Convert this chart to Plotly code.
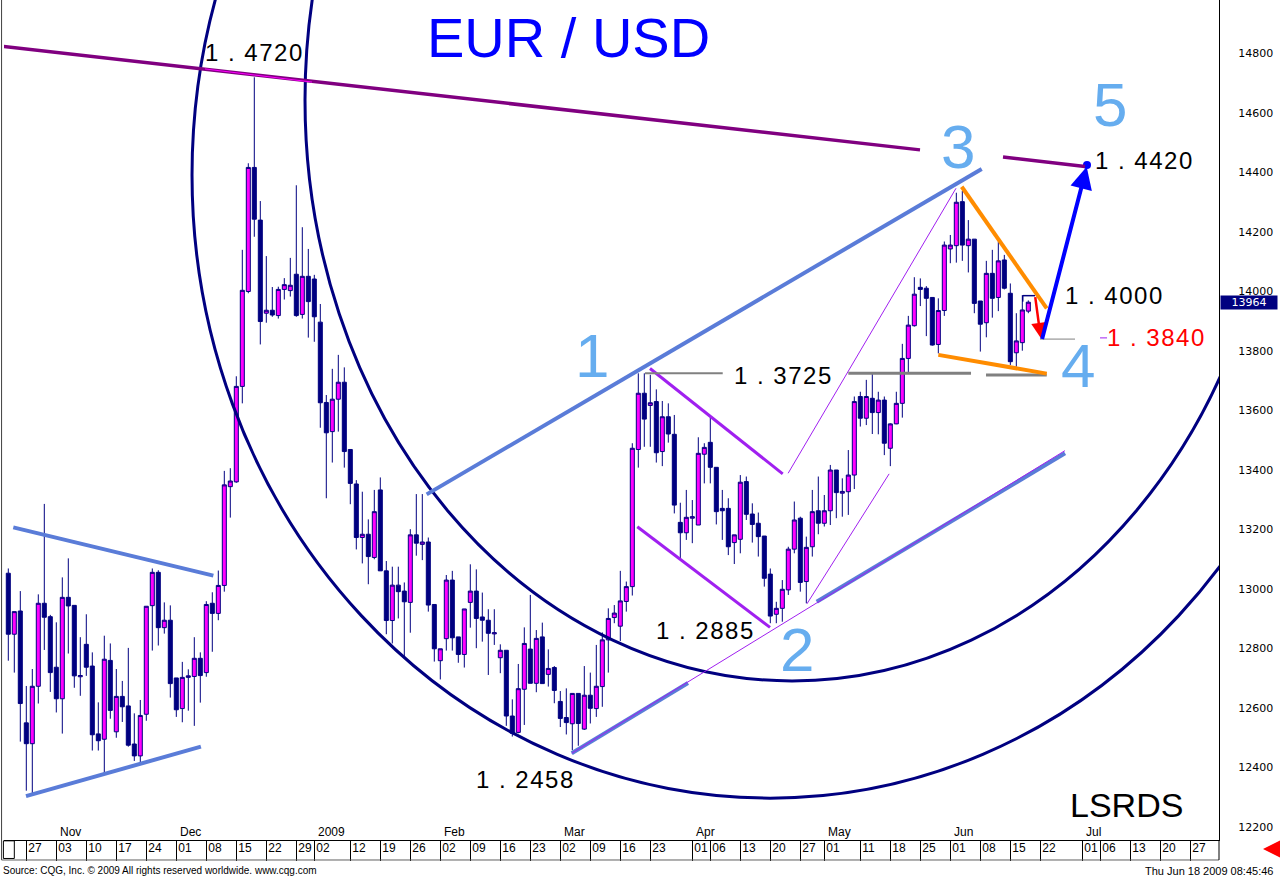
import plotly.graph_objects as go
import pandas as pd

# ---------------- data ----------------
calendar = [d for d in pd.bdate_range("2008-10-22", "2009-07-31") if d != pd.Timestamp("2009-01-01")]

open_ = [1.3053, 1.2848, 1.2926, 1.2550, 1.2480, 1.2673, 1.2952, 1.2907, 1.2737, 1.2631,
         1.2972, 1.2945, 1.2705, 1.2814, 1.2741, 1.2513, 1.2495, 1.2760, 1.2520, 1.2639,
         1.2607, 1.2479, 1.2439, 1.2579, 1.2944, 1.3056, 1.2870, 1.2895, 1.2701, 1.2598,
         1.2703, 1.2706, 1.2767, 1.2719, 1.2952, 1.2918, 1.3012, 1.3344, 1.3360, 1.3681,
         1.4000, 1.4417, 1.4240, 1.3927, 1.3937, 1.3919, 1.4007, 1.4003, 1.4058, 1.3923,
         1.4051, 1.4042, 1.3897, 1.3627, 1.3529, 1.3638, 1.3695, 1.3469, 1.3353, 1.3173,
         1.3184, 1.3106, 1.3333, 1.3061, 1.2894, 1.3013, 1.2993, 1.2955, 1.3182, 1.3150,
         1.3158, 1.2948, 1.2759, 1.2833, 1.3030, 1.2839, 1.2780, 1.2955, 1.2993, 1.2906,
         1.2895, 1.2849, 1.2769, 1.2794, 1.2573, 1.2518, 1.2663, 1.2798, 1.2683, 1.2839,
         1.2713, 1.2736, 1.2622, 1.2568, 1.2547, 1.2649, 1.2529, 1.2643, 1.2598, 1.2672,
         1.2829, 1.2904, 1.2875, 1.2958, 1.3008, 1.3469, 1.3658, 1.3617, 1.3630, 1.3462,
         1.3579, 1.3520, 1.3224, 1.3189, 1.3238, 1.3215, 1.3453, 1.3493, 1.3409, 1.3271,
         1.3271, 1.3156, 1.3167, 1.3361, 1.3252, 1.3221, 1.3178, 1.3050, 1.2915, 1.2935,
         1.2997, 1.3134, 1.3238, 1.3025, 1.3142, 1.3263, 1.3221, 1.3263, 1.3400, 1.3322,
         1.3327, 1.3383, 1.3647, 1.3574, 1.3641, 1.3593, 1.3635, 1.3473, 1.3555, 1.3624,
         1.3775, 1.3885, 1.4014, 1.4011, 1.3980, 1.3822, 1.3936, 1.4143, 1.4154, 1.4302,
         1.4154, 1.4176, 1.3968, 1.3895, 1.4061, 1.3980, 1.4106, 1.3994, 1.3794, 1.3828,
         1.3934]
high = [1.3069, 1.2924, 1.2993, 1.2674, 1.2731, 1.2982, 1.3286, 1.2913, 1.2888, 1.3039,
        1.3103, 1.2945, 1.2838, 1.2915, 1.2787, 1.2619, 1.2843, 1.2817, 1.2731, 1.2691,
        1.2802, 1.2582, 1.2627, 1.2942, 1.3069, 1.3063, 1.2955, 1.2945, 1.2701, 1.2755,
        1.2730, 1.2838, 1.2787, 1.2959, 1.2989, 1.3062, 1.3397, 1.3406, 1.3715, 1.4140,
        1.4431, 1.4720, 1.4304, 1.4119, 1.4015, 1.4016, 1.4045, 1.4113, 1.4357, 1.4216,
        1.4143, 1.4056, 1.3958, 1.3652, 1.3740, 1.3787, 1.3745, 1.3469, 1.3366, 1.3327,
        1.3234, 1.3333, 1.3375, 1.3094, 1.3075, 1.3075, 1.3022, 1.3201, 1.3319, 1.3319,
        1.3173, 1.2948, 1.2799, 1.3047, 1.3061, 1.2839, 1.2933, 1.3083, 1.3066, 1.2988,
        1.2932, 1.2932, 1.2814, 1.2794, 1.2629, 1.2748, 1.2871, 1.2980, 1.2862, 1.2887,
        1.2797, 1.2741, 1.2657, 1.2666, 1.2649, 1.2649, 1.2741, 1.2719, 1.2812, 1.2854,
        1.2935, 1.2946, 1.3061, 1.3025, 1.3490, 1.3725, 1.3725, 1.3720, 1.3671, 1.3632,
        1.3624, 1.3585, 1.3290, 1.3333, 1.3299, 1.3510, 1.3490, 1.3576, 1.3409, 1.3333,
        1.3305, 1.3182, 1.3383, 1.3378, 1.3288, 1.3257, 1.3178, 1.3069, 1.2957, 1.3030,
        1.3142, 1.3294, 1.3243, 1.3176, 1.3333, 1.3378, 1.3316, 1.3417, 1.3400, 1.3372,
        1.3467, 1.3647, 1.3663, 1.3703, 1.3725, 1.3663, 1.3647, 1.3557, 1.3663, 1.3824,
        1.3918, 1.4048, 1.4044, 1.4018, 1.3980, 1.3977, 1.4168, 1.4190, 1.4332, 1.4338,
        1.4240, 1.4176, 1.3968, 1.4103, 1.4140, 1.4168, 1.4123, 1.4027, 1.3927, 1.3988,
        1.3970]
low = [1.2759, 1.2719, 1.2487, 1.2322, 1.2313, 1.2615, 1.2795, 1.2654, 1.2585, 1.2514,
       1.2783, 1.2668, 1.2641, 1.2708, 1.2457, 1.2457, 1.2380, 1.2564, 1.2500, 1.2553,
       1.2470, 1.2422, 1.2414, 1.2557, 1.2793, 1.2810, 1.2850, 1.2635, 1.2570, 1.2552,
       1.2591, 1.2540, 1.2618, 1.2705, 1.2789, 1.2895, 1.2991, 1.3240, 1.3357, 1.3624,
       1.3994, 1.4184, 1.3822, 1.3895, 1.3915, 1.3909, 1.3973, 1.3983, 1.3915, 1.3909,
       1.3845, 1.3831, 1.3542, 1.3305, 1.3425, 1.3529, 1.3408, 1.3285, 1.3133, 1.3086,
       1.3016, 1.3100, 1.3061, 1.2848, 1.2817, 1.2901, 1.2767, 1.2853, 1.3112, 1.3097,
       1.2924, 1.2756, 1.2696, 1.2793, 1.2793, 1.2752, 1.2736, 1.2870, 1.2801, 1.2823,
       1.2711, 1.2812, 1.2717, 1.2540, 1.2504, 1.2515, 1.2543, 1.2683, 1.2653, 1.2682,
       1.2672, 1.2616, 1.2536, 1.2511, 1.2458, 1.2473, 1.2526, 1.2548, 1.2570, 1.2604,
       1.2719, 1.2885, 1.2825, 1.2924, 1.2978, 1.3408, 1.3478, 1.3478, 1.3425, 1.3413,
       1.3492, 1.3254, 1.3103, 1.3165, 1.3154, 1.3215, 1.3355, 1.3355, 1.3217, 1.3165,
       1.3114, 1.3084, 1.3120, 1.3232, 1.3156, 1.3109, 1.3008, 1.2885, 1.2885, 1.2890,
       1.2980, 1.3120, 1.2991, 1.2952, 1.3109, 1.3184, 1.3210, 1.3215, 1.3238, 1.3243,
       1.3249, 1.3336, 1.3546, 1.3551, 1.3521, 1.3520, 1.3450, 1.3413, 1.3554, 1.3576,
       1.3727, 1.3882, 1.3951, 1.3850, 1.3818, 1.3792, 1.3918, 1.4095, 1.4097, 1.4103,
       1.4064, 1.3927, 1.3798, 1.3846, 1.3912, 1.3934, 1.4007, 1.3753, 1.3747, 1.3801,
       1.3927]
close = [1.2848, 1.2924, 1.2615, 1.2480, 1.2673, 1.2952, 1.2905, 1.2719, 1.2631, 1.2972,
         1.2943, 1.2708, 1.2709, 1.2737, 1.2510, 1.2490, 1.2764, 1.2592, 1.2639, 1.2604,
         1.2475, 1.2439, 1.2575, 1.2942, 1.3056, 1.2870, 1.2895, 1.2682, 1.2594, 1.2703,
         1.2708, 1.2767, 1.2709, 1.2948, 1.2918, 1.3012, 1.3350, 1.3363, 1.3681, 1.4004,
         1.4417, 1.4243, 1.3899, 1.3937, 1.3921, 1.4007, 1.4023, 1.4021, 1.3919, 1.4051,
         1.3966, 1.3915, 1.3626, 1.3525, 1.3638, 1.3695, 1.3462, 1.3355, 1.3173, 1.3184,
         1.3109, 1.3260, 1.3061, 1.2894, 1.3013, 1.2991, 1.2957, 1.3182, 1.3154, 1.3158,
         1.2946, 1.2799, 1.2799, 1.3030, 1.2836, 1.2780, 1.2933, 1.2993, 1.2901, 1.2895,
         1.2851, 1.2853, 1.2794, 1.2573, 1.2515, 1.2665, 1.2817, 1.2683, 1.2834, 1.2682,
         1.2733, 1.2659, 1.2565, 1.2551, 1.2649, 1.2548, 1.2643, 1.2599, 1.2673, 1.2829,
         1.2901, 1.2919, 1.2960, 1.3008, 1.3473, 1.3658, 1.3571, 1.3626, 1.3458, 1.3579,
         1.3521, 1.3282, 1.3189, 1.3241, 1.3243, 1.3456, 1.3476, 1.3409, 1.3260, 1.3263,
         1.3142, 1.3182, 1.3359, 1.3251, 1.3217, 1.3176, 1.3036, 1.2909, 1.2935, 1.2999,
         1.3134, 1.3232, 1.3022, 1.3140, 1.3260, 1.3221, 1.3263, 1.3400, 1.3324, 1.3328,
         1.3383, 1.3630, 1.3574, 1.3647, 1.3593, 1.3635, 1.3490, 1.3555, 1.3624, 1.3775,
         1.3887, 1.3991, 1.4007, 1.3977, 1.3820, 1.3936, 1.4156, 1.4156, 1.4300, 1.4156,
         1.4176, 1.3960, 1.3890, 1.4061, 1.3977, 1.4103, 1.4011, 1.3764, 1.3834, 1.3938,
         1.3964]

tick_days = ["2008-10-27", "2008-11-03", "2008-11-10", "2008-11-17", "2008-11-24",
             "2008-12-01", "2008-12-08", "2008-12-15", "2008-12-22", "2008-12-29",
             "2009-01-02", "2009-01-12", "2009-01-19", "2009-01-26", "2009-02-02",
             "2009-02-09", "2009-02-16", "2009-02-23", "2009-03-02", "2009-03-09",
             "2009-03-16", "2009-03-23", "2009-04-01", "2009-04-06", "2009-04-13",
             "2009-04-20", "2009-04-27", "2009-05-01", "2009-05-11", "2009-05-18",
             "2009-05-25", "2009-06-01", "2009-06-08", "2009-06-15", "2009-06-22",
             "2009-07-01", "2009-07-06", "2009-07-13", "2009-07-20", "2009-07-27"]
month_starts = ["2008-11-03", "2008-12-01", "2009-01-02", "2009-02-02", "2009-03-02",
                "2009-04-01", "2009-05-01", "2009-06-01", "2009-07-01"]
month_names = ["Nov", "Dec", "2009", "Feb", "Mar", "Apr", "May", "Jun", "Jul"]

y_ticks = [1.22, 1.24, 1.26, 1.28, 1.30, 1.32, 1.34, 1.36, 1.38, 1.40, 1.42, 1.44, 1.46, 1.48]
y_tick_text = ["12200", "12400", "12600", "12800", "13000", "13200", "13400", "13600",
               "13800", "14000", "14200", "14400", "14600", "14800"]

# drawn studies, in (bar index, price)
purple_trend = [(-1.38, 1.4825), (151.95, 1.4476)]
purple_trend_2 = [(165.78, 1.4452), (179.45, 1.4420)]
high_leader = [(32.78, 1.4748), (50.62, 1.4704)]
blue_lines = [[(0.83, 1.3207), (34.17, 1.3045)],
              [(2.95, 1.2304), (32.1, 1.2470)],
              [(69.73, 1.3318), (162.23, 1.4412)],
              [(93.9, 1.2448), (113.28, 1.2684)],
              [(134.73, 1.2957), (176.12, 1.3456)]]
violet_thin = [[(93.9, 1.2448), (176.1, 1.3465)],
               [(129.97, 1.3389), (157.95, 1.4347)],
               [(133.1, 1.2950), (146.8, 1.3387)]]
violet_channel = [[(106.95, 1.3741), (129.07, 1.3387)],
                  [(104.83, 1.3209), (126.95, 1.2871)]]
gray_levels = [[(106.12, 1.3725), (119.07, 1.3725)],
               [(140.0, 1.3725), (160.45, 1.3725)],
               [(162.95, 1.3719), (173.07, 1.3719)]]
gray_1384 = [(171.95, 1.3840), (177.78, 1.3840)]
orange_lines = [[(158.9, 1.4352), (173.07, 1.3943)],
                [(155.0, 1.3787), (173.07, 1.3724)]]
bracket_1400 = [(169.07, 1.3966), (169.07, 1.3986), (171.12, 1.3986)]
red_arrow = [(171.12, 1.3986), (172.07, 1.3844)]
blue_arrow = [(172.23, 1.3835), (179.73, 1.4419)]
target5 = (179.78, 1.4425)
dash_1384 = [(181.95, 1.3844), (183.12, 1.3844)]
time_circles = [(49.45, 211.78, 1.2691, 1.6597), (30.62, 223.28, 1.2297, 1.6486)]

price_labels = ["1 . 4720", "1 . 3725", "1 . 2885", "1 . 2458", "1 . 4000", "1 . 4420"]
price_label_x = [41.03, 129.28, 116.28, 86.12, 184.28, 189.28]
price_label_y = [1.4802, 1.3719, 1.2862, 1.2358, 1.3985, 1.4442]
target_label = ("1 . 3840", 191.28, 1.3844)
wave_labels = ["1", "2", "3", "4", "5"]
wave_x = [97.28, 131.4, 158.28, 178.2, 183.62]
wave_y = [1.3785, 1.2795, 1.4486, 1.3750, 1.4630]

# ---------------- figure ----------------
n = len(close)
idx = list(range(n))
pos = {d: i for i, d in enumerate(calendar)}
tick_pos = [pos[pd.Timestamp(d)] for d in tick_days]
tick_text = [d[-2:] for d in tick_days]

NAVY = "#000080"
fig = go.Figure()
fig.add_trace(go.Candlestick(
    x=idx, open=open_, high=high, low=low, close=close,
    text=[d.strftime("%Y-%m-%d") for d in calendar[:n]],
    increasing=dict(fillcolor="#FF00FF", line=dict(color=NAVY, width=1)),
    decreasing=dict(fillcolor=NAVY, line=dict(color=NAVY, width=1)),
    whiskerwidth=0, showlegend=False))
fig.add_trace(go.Scatter(x=[target5[0]], y=[target5[1]], mode="markers",
                         marker=dict(color="#0000FF", size=8), showlegend=False, hoverinfo="skip"))

shapes = []
def seg(a, b, color, width):
    shapes.append(dict(type="line", xref="x", yref="y", x0=a[0], y0=a[1], x1=b[0], y1=b[1],
                       line=dict(color=color, width=width)))

for (x0, x1, y0, y1) in time_circles:
    shapes.append(dict(type="circle", xref="x", yref="y", x0=x0, x1=x1, y0=y0, y1=y1,
                       line=dict(color=NAVY, width=3)))
seg(*purple_trend, "#800080", 3.5)
seg(*purple_trend_2, "#800080", 3.5)
seg(*high_leader, "#FF00FF", 1)
for ln in blue_lines:
    seg(*ln, "#5A7CD8", 4)
for ln in violet_channel:
    seg(*ln, "#A020F0", 3)
for ln in violet_thin:
    seg(*ln, "#A020F0", 1)
seg(*gray_levels[0], "#808080", 2)
seg(*gray_levels[1], "#808080", 3)
seg(*gray_levels[2], "#808080", 3)
seg(*gray_1384, "#808080", 1)
for ln in orange_lines:
    seg(*ln, "#FF8C00", 4)
seg(bracket_1400[0], bracket_1400[1], NAVY, 1.5)
seg(bracket_1400[1], bracket_1400[2], NAVY, 1.5)
seg(*dash_1384, "#A020F0", 1)

# frame pieces outside the plot
shapes.append(dict(type="line", xref="paper", yref="paper", x0=-0.002, x1=-0.002, y0=-0.0238, y1=1,
                   line=dict(color="#404040", width=1)))
shapes.append(dict(type="line", xref="paper", yref="paper", x0=-0.002, x1=1.0, y0=-0.0238, y1=-0.0238,
                   line=dict(color="#606060", width=1)))
shapes.append(dict(type="line", xref="paper", yref="paper", x0=1.0, x1=1.0, y0=-0.0238, y1=0,
                   line=dict(color="black", width=1)))
shapes.append(dict(type="rect", xref="paper", yref="paper", x0=-0.0005, x1=0.0085, y0=-0.022, y1=-0.001,
                   line=dict(color="black", width=1)))

def spaced(t, px):
    return '<span style="letter-spacing:%spx">%s</span>' % (px, t)

ann = []
ann.append(dict(xref="paper", yref="paper", x=0.4642, y=0.9548, text="EUR / USD", showarrow=False,
                font=dict(family="Liberation Sans", size=56, color="#0000FF"),
                xanchor="center", yanchor="middle"))
for t, x, y in zip(wave_labels, wave_x, wave_y):
    ann.append(dict(x=x, y=y, text=t, showarrow=False, xanchor="center", yanchor="middle",
                    font=dict(family="Liberation Sans", size=62, color="#66ADEF")))
for t, x, y in zip(price_labels, price_label_x, price_label_y):
    ann.append(dict(x=x, y=y, text=spaced(t, 1.5), showarrow=False, xanchor="center", yanchor="middle",
                    font=dict(family="Liberation Sans", size=24, color="black")))
ann.append(dict(x=target_label[1], y=target_label[2], text=spaced(target_label[0], 1.5), showarrow=False,
                xanchor="center", yanchor="middle",
                font=dict(family="Liberation Sans", size=24, color="#FF0000")))
ann.append(dict(x=186.28, y=1.2274, text="LSRDS", showarrow=False, xanchor="center", yanchor="middle",
                font=dict(family="Liberation Sans", size=34, color="black")))
# arrows
ann.append(dict(x=red_arrow[1][0], y=red_arrow[1][1], ax=red_arrow[0][0], ay=red_arrow[0][1],
                xref="x", yref="y", axref="x", ayref="y", text="", showarrow=True,
                arrowhead=2, arrowsize=1.2, arrowwidth=2.5, arrowcolor="#FF0000"))
ann.append(dict(x=blue_arrow[1][0], y=blue_arrow[1][1], ax=blue_arrow[0][0], ay=blue_arrow[0][1],
                xref="x", yref="y", axref="x", ayref="y", text="", showarrow=True,
                arrowhead=2, arrowsize=1.1, arrowwidth=4, arrowcolor="#0000FF"))
# month labels
for d, name in zip(month_starts, month_names):
    ann.append(dict(x=pos[pd.Timestamp(d)], y=0.0095, xref="x", yref="paper", text=name,
                    showarrow=False, xanchor="left", yanchor="middle", xshift=2,
                    font=dict(family="Liberation Sans", size=12, color="black")))
# last price box
ann.append(dict(xref="paper", yref="y", x=1.0008, y=close[-1], text=str(round(close[-1] * 10000)),
                showarrow=False, xanchor="left", yanchor="middle", bgcolor=NAVY, width=54, height=11,
                borderpad=1, font=dict(family="DejaVu Sans", size=11, color="white")))
# footer
ann.append(dict(xref="paper", yref="paper", x=-0.0025, y=-0.0369, xanchor="left", yanchor="middle",
                text="Source: CQG, Inc. © 2009 All rights reserved worldwide. www.cqg.com", showarrow=False,
                font=dict(family="Liberation Sans", size=10, color="black")))
ann.append(dict(xref="paper", yref="paper", x=1.0461, y=-0.0369, xanchor="right", yanchor="middle",
                text="Thu Jun 18 2009 08:45:46", showarrow=False,
                font=dict(family="Liberation Sans", size=11, color="black")))
ann.append(dict(xref="paper", yref="paper", x=1.0362, y=-0.0107, ax=15, ay=0, text="", showarrow=True,
                arrowhead=2, arrowsize=1, arrowwidth=4, arrowcolor="#FF0000"))

fig.update_layout(
    width=1280, height=878,
    margin=dict(l=4, r=61, t=0, b=38),
    paper_bgcolor="white", plot_bgcolor="white",
    shapes=shapes, annotations=ann,
    boxgap=0.33, boxgroupgap=0,
    xaxis=dict(range=[-0.717, 201.78], showgrid=False, zeroline=False, fixedrange=True,
               rangeslider=dict(visible=False),
               tickvals=tick_pos, ticktext=tick_text, ticks="outside", ticklen=20, tickwidth=1,
               tickcolor="black", tickangle=0, ticklabelposition="outside right",
               ticklabelstandoff=-3, ticklabelshift=1,
               tickfont=dict(family="Liberation Sans", size=12, color="black"),
               showline=True, linecolor="black", linewidth=1),
    yaxis=dict(range=[1.21563, 1.49798], side="right", showgrid=False, zeroline=False,
               fixedrange=True, tickvals=y_ticks, ticktext=y_tick_text, ticks="",
               ticklabelstandoff=16,
               tickfont=dict(family="DejaVu Sans", size=11, color="black"),
               showline=True, linecolor="black", linewidth=1),
    showlegend=False,
)

fig.write_html("out.html", config={"displayModeBar": False},
               post_script="document.body.style.margin='0px';document.body.style.padding='0px';")
